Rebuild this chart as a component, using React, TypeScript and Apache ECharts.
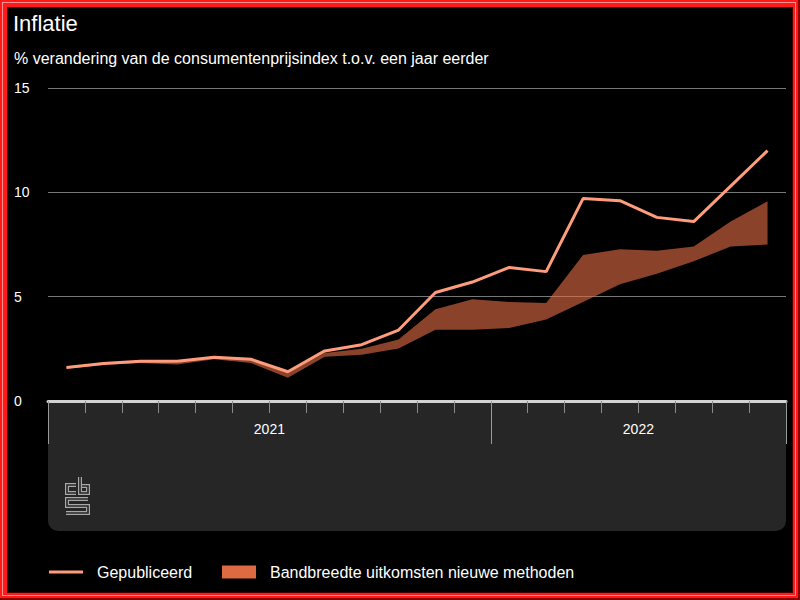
import React, { useEffect, useRef } from "react";
import * as echarts from "echarts";

// ---- data ----
const maanden = [
  "jan 2021", "feb 2021", "mrt 2021", "apr 2021", "mei 2021", "jun 2021",
  "jul 2021", "aug 2021", "sep 2021", "okt 2021", "nov 2021", "dec 2021",
  "jan 2022", "feb 2022", "mrt 2022", "apr 2022", "mei 2022", "jun 2022",
  "jul 2022", "aug 2022",
];
const gepubliceerd = [1.6, 1.8, 1.9, 1.9, 2.1, 2.0, 1.4, 2.4, 2.7, 3.4, 5.2, 5.7, 6.4, 6.2, 9.7, 9.6, 8.8, 8.6, 10.3, 12.0];
const bandLaag = [1.55, 1.72, 1.82, 1.75, 2.0, 1.82, 1.12, 2.12, 2.22, 2.52, 3.42, 3.42, 3.5, 3.9, 4.75, 5.6, 6.1, 6.7, 7.4, 7.5];
const bandHoog = [1.6, 1.8, 1.9, 1.85, 2.1, 1.95, 1.35, 2.3, 2.5, 2.95, 4.4, 4.88, 4.75, 4.7, 7.0, 7.27, 7.2, 7.4, 8.6, 9.57];
const jaren = ["2021", "2022"];
const jaarMidden = [6, 16]; // positions (in months) of year-label centres
const jaarGrenzen = [0, 12, 20]; // month boundaries between years

const titel = "Inflatie";
const ondertitel = "% verandering van de consumentenprijsindex t.o.v. een jaar eerder";
const naamLijn = "Gepubliceerd";
const naamBand = "Bandbreedte uitkomsten nieuwe methoden";

const FONT = 'Arial, "Liberation Sans", Helvetica, sans-serif';
const LIJN_KLEUR = "#ff9c7c";
const BAND_KLEUR = "#de6a43";

const LOGO_D =
  "M76,485 L67,485 L67,493 L76,493 " +
  "M80,477 L80,493 L88,493 L88,486 L82,486 " +
  "M88,499 L67,499 L67,506 L88,506 L88,513 L66,513";
echarts.graphic.registerShape("cbsLogo", echarts.graphic.extendPath(LOGO_D, {}));

export default function App() {
  const ref = useRef<HTMLDivElement>(null);

  useEffect(() => {
    if (!ref.current) return;
    const chart = echarts.init(ref.current, undefined, { renderer: "svg" });
    const bandVerschil = bandHoog.map((v, i) => +(v - bandLaag[i]).toFixed(3));

    chart.setOption({
      animation: false,
      backgroundColor: "transparent",
      textStyle: { fontFamily: FONT },
      grid: { left: 48, right: 14, top: 88, bottom: 199, containLabel: false },
      xAxis: [
        {
          type: "category",
          data: maanden,
          boundaryGap: true,
          axisLine: { show: true, lineStyle: { color: "#d2d2d2", width: 3 } },
          axisTick: { show: true, interval: 0, length: 12, lineStyle: { color: "#8a8a8a", width: 1 } },
          axisLabel: { show: false },
          splitLine: { show: false },
          z: 5,
        },
        {
          type: "value",
          min: 0,
          max: 20,
          position: "bottom",
          axisLine: { show: false },
          splitLine: { show: false },
          axisTick: {
            show: true,
            customValues: jaarGrenzen,
            length: 43,
            lineStyle: { color: "#9a9a9a", width: 1 },
          },
          axisLabel: {
            show: true,
            customValues: jaarMidden,
            formatter: (v: number) => jaren[jaarMidden.indexOf(v)] ?? "",
            color: "#ffffff",
            fontSize: 14,
            fontFamily: FONT,
            margin: 21,
          },
          z: 5,
        },
      ],
      yAxis: {
        type: "value",
        min: 0,
        max: 15,
        interval: 5,
        axisLine: { show: false },
        axisTick: { show: false },
        axisLabel: { color: "#ffffff", fontSize: 14, fontFamily: FONT, align: "left", margin: 34 },
        splitLine: { show: true, lineStyle: { color: "#777777", width: 1 } },
      },
      series: [
        {
          name: "bandLaag",
          type: "line",
          stack: "band",
          data: bandLaag,
          symbol: "none",
          silent: true,
          lineStyle: { opacity: 0, width: 0 },
          z: 2,
        },
        {
          name: naamBand,
          type: "line",
          stack: "band",
          data: bandVerschil,
          symbol: "none",
          silent: true,
          lineStyle: { opacity: 0, width: 0 },
          areaStyle: { color: "rgba(222,106,67,0.62)", opacity: 1 },
          z: 2,
        },
        {
          name: naamLijn,
          type: "line",
          data: gepubliceerd,
          symbol: "none",
          lineStyle: { color: LIJN_KLEUR, width: 3 },
          z: 4,
        },
      ],
      graphic: [
        {
          type: "rect",
          z: -10,
          shape: { x: 48, y: 401, width: 738, height: 130, r: [0, 0, 10, 10] },
          style: { fill: "#262626" },
        },
        {
          type: "cbsLogo",
          z: 1,
          x: 0,
          y: 0,
          style: { fill: "none", stroke: "#a8a8a8", lineWidth: 4, lineJoin: "miter" },
        },
        {
          type: "cbsLogo",
          z: 2,
          x: 0,
          y: 0,
          style: { fill: "none", stroke: "#262626", lineWidth: 1.6, lineJoin: "miter" },
        },
        {
          type: "text",
          x: 13,
          y: 23,
          style: { text: titel, fill: "#ffffff", font: `22px ${FONT}`, textVerticalAlign: "middle" },
        },
        {
          type: "text",
          x: 14,
          y: 58,
          style: { text: ondertitel, fill: "#ffffff", font: `16px ${FONT}`, textVerticalAlign: "middle" },
        },
        {
          type: "line",
          shape: { x1: 49, y1: 572, x2: 83, y2: 572 },
          style: { stroke: LIJN_KLEUR, lineWidth: 3 },
        },
        {
          type: "text",
          x: 97,
          y: 572,
          style: { text: naamLijn, fill: "#ffffff", font: `16px ${FONT}`, textVerticalAlign: "middle" },
        },
        {
          type: "rect",
          shape: { x: 222, y: 565.5, width: 34, height: 13 },
          style: { fill: BAND_KLEUR },
        },
        {
          type: "text",
          x: 270,
          y: 572,
          style: { text: naamBand, fill: "#ffffff", font: `16px ${FONT}`, textVerticalAlign: "middle" },
        },
      ],
    });

    return () => chart.dispose();
  }, []);

  return (
    <div style={{ position: "absolute", left: 0, top: 0, width: 800, height: 600, background: "#ff1a1a", boxShadow: "inset -2px -2px 0 #8a0000" }}>
      <div style={{ position: "absolute", left: 2, top: 2, right: 4, bottom: 4, border: "1px solid #ff9090" }} />
      <div style={{ position: "absolute", left: 7, top: 7, right: 7, bottom: 7, background: "#000000", border: "1px solid #4a0000", boxSizing: "border-box" }} />
      <div ref={ref} style={{ position: "absolute", left: 0, top: 0, width: 800, height: 600 }} />
    </div>
  );
}
